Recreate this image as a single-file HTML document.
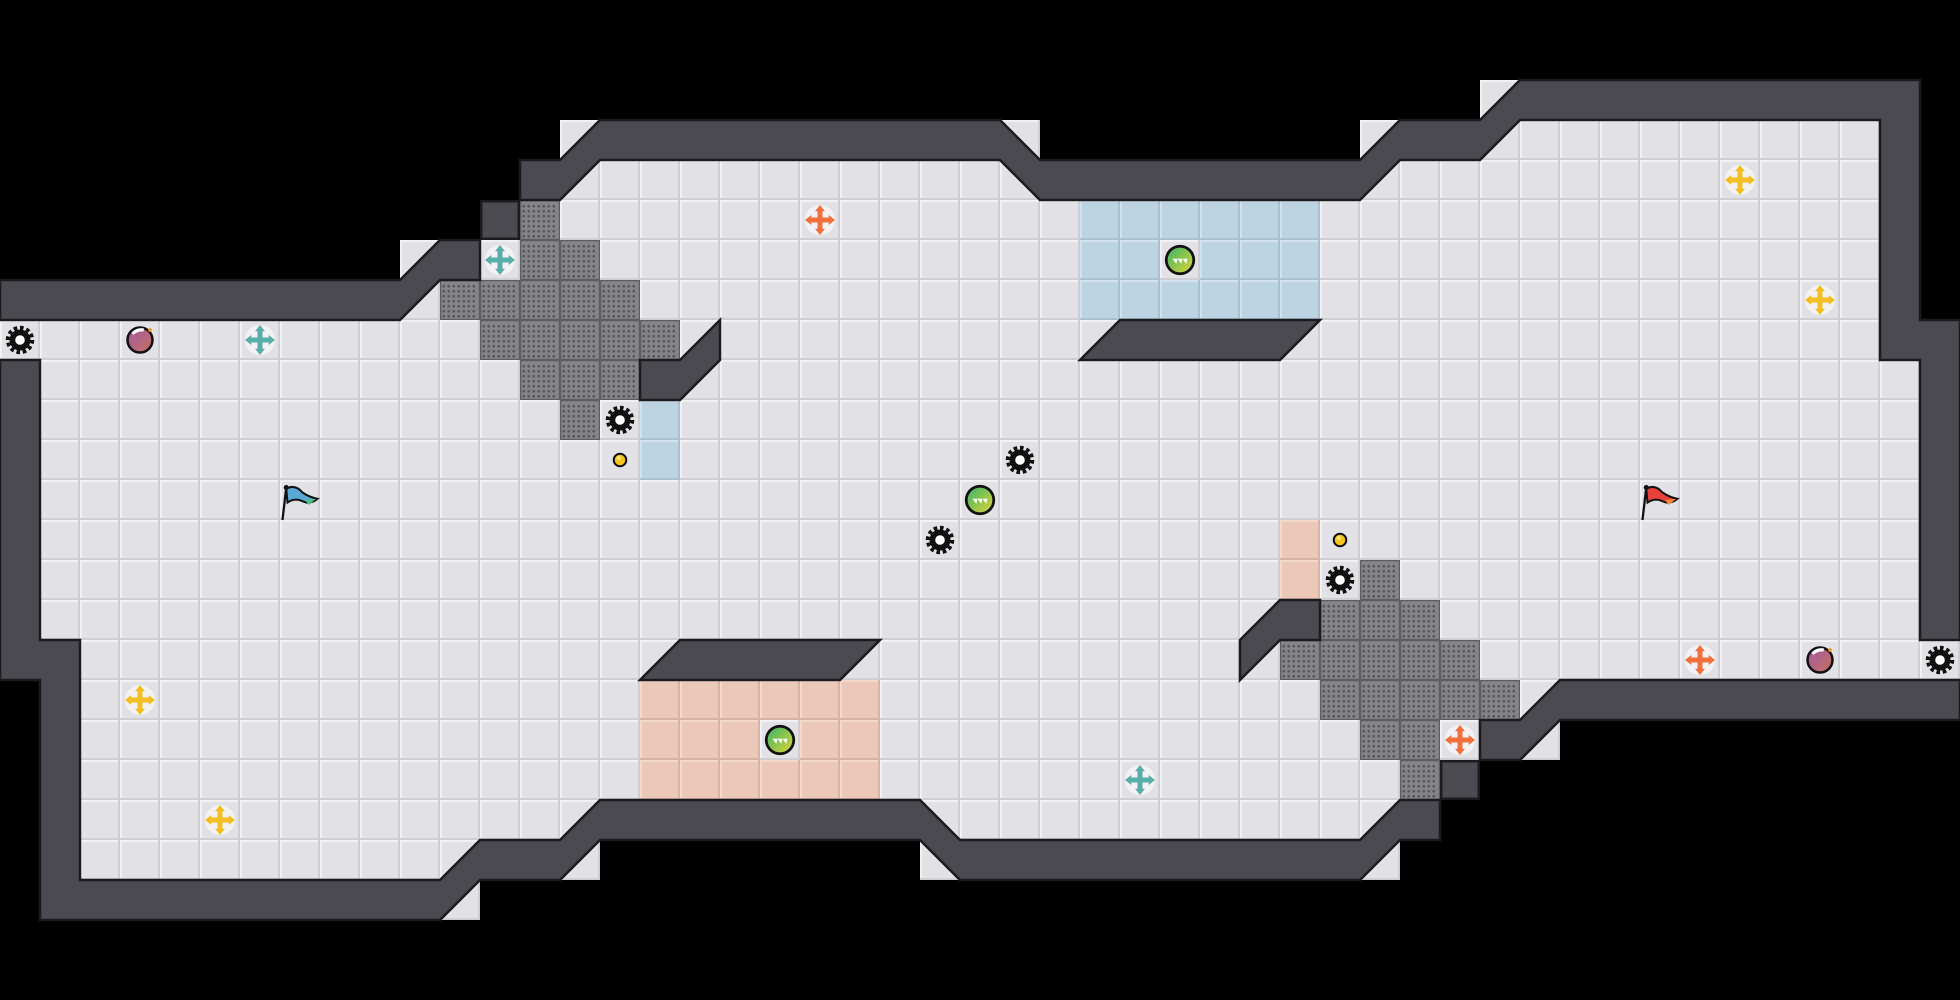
<!DOCTYPE html>
<html><head><meta charset="utf-8"><style>
html,body{margin:0;padding:0;background:#000;}
svg{display:block;}
</style></head><body>
<svg width="1960" height="1000" viewBox="0 0 1568 800" xmlns="http://www.w3.org/2000/svg">
<defs>
<pattern id="tile" width="32" height="32" patternUnits="userSpaceOnUse">
<rect width="32" height="32" fill="#e2e2e6"/>
<rect x="0" y="0" width="32" height="1.5" fill="#f2f2f4"/>
<rect x="0" y="0" width="1.5" height="32" fill="#f2f2f4"/>
<rect x="0" y="30.5" width="32" height="1.5" fill="#cdcdd2"/>
<rect x="30.5" y="0" width="1.5" height="32" fill="#cdcdd2"/>
</pattern>
<pattern id="blue" width="32" height="32" patternUnits="userSpaceOnUse">
<rect width="32" height="32" fill="#bcd3e3"/>
<rect x="0" y="0" width="32" height="1.5" fill="#d2e3ef"/>
<rect x="0" y="0" width="1.5" height="32" fill="#d2e3ef"/>
<rect x="0" y="30.5" width="32" height="1.5" fill="#a7bfd0"/>
<rect x="30.5" y="0" width="1.5" height="32" fill="#a7bfd0"/>
</pattern>
<pattern id="peach" width="32" height="32" patternUnits="userSpaceOnUse">
<rect width="32" height="32" fill="#ecc8b8"/>
<rect x="0" y="0" width="32" height="1.5" fill="#f4d9cc"/>
<rect x="0" y="0" width="1.5" height="32" fill="#f4d9cc"/>
<rect x="0" y="30.5" width="32" height="1.5" fill="#d6b2a2"/>
<rect x="30.5" y="0" width="1.5" height="32" fill="#d6b2a2"/>
</pattern>
<g id="dots">
<circle cx="5" cy="0" r="1.1"/><circle cx="9" cy="0" r="1.1"/><circle cx="13" cy="0" r="1.1"/><circle cx="17" cy="0" r="1.1"/><circle cx="21" cy="0" r="1.1"/><circle cx="25" cy="0" r="1.1"/><circle cx="29" cy="0" r="1.1"/>
</g>
<pattern id="grate2" width="32" height="32" patternUnits="userSpaceOnUse">
<rect width="32" height="32" fill="#5e5e62"/>
<rect x="1" y="1" width="30" height="30" fill="#858589"/>
<g fill="#58585c">
<use href="#dots" x="-2" y="5"/><use href="#dots" x="-2" y="9"/><use href="#dots" x="-2" y="13"/><use href="#dots" x="-2" y="17"/><use href="#dots" x="-2" y="21"/><use href="#dots" x="-2" y="25"/><use href="#dots" x="-2" y="29"/>
</g>
</pattern>
<g id="gear" transform="scale(1.2)">
<circle r="7.5" fill="none" stroke="#111" stroke-width="4" stroke-dasharray="2.2 1.7"/>
<circle r="7" fill="#111"/>
<circle r="3.2" fill="#fff"/>
</g>
<g id="coin"><circle r="5" fill="#f7c51a" stroke="#111" stroke-width="1.6"/><circle cx="-1" cy="-1.5" r="1.6" fill="#fde58a"/></g>
<linearGradient id="pg" x1="0" y1="0" x2="1" y2="1"><stop offset="0" stop-color="#a05aa8"/><stop offset="1" stop-color="#c8705a"/></linearGradient>
<g id="potion"><circle r="11" fill="#eee" opacity=".6"/><circle r="10" fill="url(#pg)" stroke="#111" stroke-width="2"/><path d="M-6,-5 Q-2,-9 3,-8" stroke="#fff" stroke-width="2.5" fill="none"/><circle cx="8" cy="-8" r="1.5" fill="#f39a2a"/></g>
<linearGradient id="gg" x1="0" y1="0" x2="1" y2="1"><stop offset="0" stop-color="#35b36a"/><stop offset="1" stop-color="#e2d634"/></linearGradient>
<g id="ball"><circle r="11" fill="url(#gg)" stroke="#111" stroke-width="2.2"/><path d="M-6,-1 l3,4 l1,-4 l3,4 l1,-4 l3,4 l1,-4 z" fill="#fff"/></g>
<g id="cross">
<circle r="12" fill="#fff" opacity=".55"/>
<path d="M-2,-8 h4 v6 h6 v4 h-6 v6 h-4 v-6 h-6 v-4 h6 z" />
<path d="M0,-12 l-4,5 h8 z M0,12 l-4,-5 h8 z M-12,0 l5,-4 v8 z M12,0 l-5,-4 v8 z"/>
</g>
</defs>

<polygon fill="url(#tile)" points="0,224 320,224 320,192 384,192 384,160 416,160 416,128 448,128 448,96 832,96 832,128 1088,128 1088,96 1184,96 1184,64 1536,64 1536,256 1568,256 1568,576 1248,576 1248,608 1184,608 1184,640 1152,640 1152,672 1120,672 1120,704 736,704 736,672 480,672 480,704 384,704 384,736 32,736 32,544 0,544"/>

<rect x="864" y="160" width="192" height="96" fill="url(#blue)"/>
<rect x="512" y="320" width="32" height="64" fill="url(#blue)"/>
<rect x="512" y="544" width="192" height="96" fill="url(#peach)"/>
<rect x="1024" y="416" width="32" height="64" fill="url(#peach)"/>
<rect x="928" y="192" width="32" height="32" fill="url(#tile)"/>
<rect x="608" y="576" width="32" height="32" fill="url(#tile)"/>

<g fill="url(#grate2)">
<rect x="416" y="160" width="32" height="32"/>
<rect x="416" y="192" width="64" height="32"/>
<rect x="352" y="224" width="160" height="32"/>
<rect x="384" y="256" width="160" height="32"/>
<rect x="416" y="288" width="96" height="32"/>
<rect x="448" y="320" width="32" height="32"/>
<rect x="1088" y="448" width="32" height="32"/>
<rect x="1056" y="480" width="96" height="32"/>
<rect x="1024" y="512" width="160" height="32"/>
<rect x="1056" y="544" width="160" height="32"/>
<rect x="1088" y="576" width="64" height="32"/>
<rect x="1120" y="608" width="32" height="32"/>
</g>

<g fill="#4a4a50" stroke="#1c1c20" stroke-width="2" stroke-linejoin="miter">
<polygon points="0,224 320,224 352,192 384,192 384,224 352,224 320,256 0,256"/>
<rect x="385" y="161" width="30" height="30"/>
<polygon points="416,128 448,128 480,96 800,96 832,128 1088,128 1120,96 1184,96 1216,64 1536,64 1536,256 1568,256 1568,512 1536,512 1536,288 1504,288 1504,96 1216,96 1184,128 1120,128 1088,160 832,160 800,128 480,128 448,160 416,160"/>
<polygon points="1568,544 1568,576 1248,576 1216,608 1184,608 1184,576 1216,576 1248,544"/>
<rect x="1153" y="609" width="30" height="30"/>
<polygon points="1120,640 1152,640 1152,672 1120,672 1088,704 768,704 736,672 480,672 448,704 384,704 352,736 32,736 32,544 0,544 0,288 32,288 32,512 64,512 64,704 352,704 384,672 448,672 480,640 736,640 768,672 1088,672"/>
<polygon points="512,288 544,288 576,256 576,288 544,320 512,320"/>
<polygon points="896,256 1056,256 1024,288 864,288"/>
<polygon points="544,512 704,512 672,544 512,544"/>
<polygon points="1024,480 1056,480 1056,512 1024,512 992,544 992,512"/>
</g>

<use href="#gear" x="16" y="272"/>
<use href="#gear" x="496" y="336"/>
<use href="#gear" x="816" y="368"/>
<use href="#gear" x="752" y="432"/>
<use href="#gear" x="1072" y="464"/>
<use href="#gear" x="1552" y="528"/>
<use href="#coin" x="496" y="368"/>
<use href="#coin" x="1072" y="432"/>
<use href="#potion" x="112" y="272"/>
<use href="#potion" x="1456" y="528"/>
<use href="#ball" x="944" y="208"/>
<use href="#ball" x="784" y="400"/>
<use href="#ball" x="624" y="592"/>
<g fill="#5aaea8"><use href="#cross" x="400" y="208"/><use href="#cross" x="208" y="272"/><use href="#cross" x="912" y="624"/></g>
<g fill="#f0703e"><use href="#cross" x="656" y="176"/><use href="#cross" x="1360" y="528"/><use href="#cross" x="1168" y="592"/></g>
<g fill="#f5be22"><use href="#cross" x="1392" y="144"/><use href="#cross" x="1456" y="240"/><use href="#cross" x="112" y="560"/><use href="#cross" x="176" y="656"/></g>

<g transform="translate(226,388)">
<line x1="3" y1="2" x2="0" y2="28" stroke="#111" stroke-width="1.8"/>
<path d="M3,3 Q10,-1 16,6 Q22,10 28,11 Q22,16 16,13 Q10,10 4,14 Z" fill="#5aa8d4" stroke="#111" stroke-width="1.6"/>
<path d="M18,12 l9,-1 l-6,5z" fill="#4dc08a"/>
<circle cx="3" cy="2" r="2" fill="#111"/>
</g>
<g transform="translate(1314,388)">
<line x1="3" y1="2" x2="0" y2="28" stroke="#111" stroke-width="1.8"/>
<path d="M3,3 Q10,-1 16,6 Q22,10 28,11 Q22,16 16,13 Q10,10 4,14 Z" fill="#e8403a" stroke="#111" stroke-width="1.6"/>
<path d="M18,12 l9,-1 l-6,5z" fill="#f28a3a"/>
<circle cx="3" cy="2" r="2" fill="#111"/>
</g>
</svg>
</body></html>
